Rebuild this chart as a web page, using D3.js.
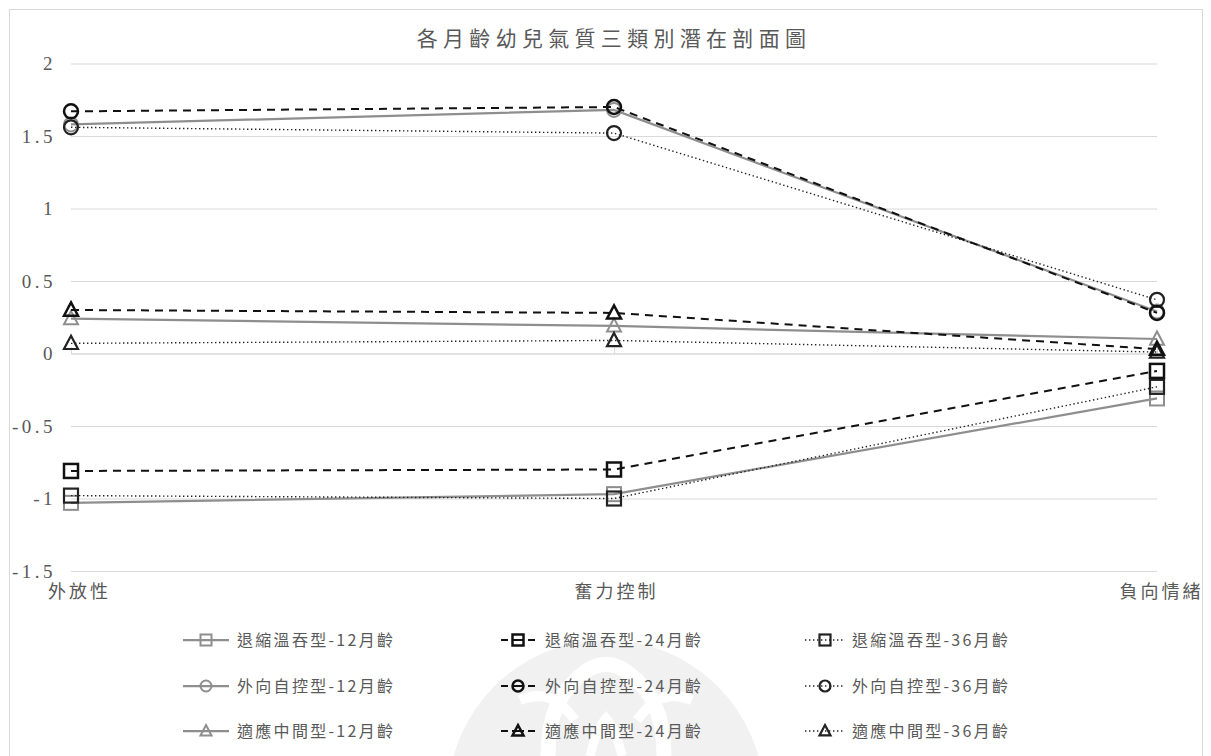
<!DOCTYPE html>
<html>
<head>
<meta charset="utf-8">
<script src="https://cdn.jsdelivr.net/npm/d3@7"></script>
<style>
  html, body { margin: 0; padding: 0; background: #ffffff; }
  svg { display: block; }
</style>
</head>
<body>
<svg id="chart" width="1211" height="756"></svg>
<script>
// Latent-profile means per temperament dimension
const categories = ["外放性", "奮力控制", "負向情緒"];
const yTicks = [-1.5, -1, -0.5, 0, 0.5, 1, 1.5, 2];
const yTickLabels = ["-1.5", "-1", "-0.5", "0", "0.5", "1", "1.5", "2"];

const withdrawn12 = [-1.03, -0.97, -0.31];
const withdrawn24 = [-0.81, -0.80, -0.12];
const withdrawn36 = [-0.98, -1.00, -0.23];
const extravert12 = [1.58, 1.68, 0.29];
const extravert24 = [1.67, 1.70, 0.28];
const extravert36 = [1.56, 1.52, 0.37];
const adaptive12 = [0.24, 0.19, 0.10];
const adaptive24 = [0.30, 0.28, 0.03];
const adaptive36 = [0.07, 0.09, 0.01];

const seriesNames = [
  "退縮溫吞型-12月齡", "退縮溫吞型-24月齡", "退縮溫吞型-36月齡",
  "外向自控型-12月齡", "外向自控型-24月齡", "外向自控型-36月齡",
  "適應中間型-12月齡", "適應中間型-24月齡", "適應中間型-36月齡"
];
const seriesValues = [
  withdrawn12, withdrawn24, withdrawn36,
  extravert12, extravert24, extravert36,
  adaptive12, adaptive24, adaptive36
];
const markerShapes = ["square", "square", "square", "circle", "circle", "circle", "triangle", "triangle", "triangle"];
const ageStyle = ["solid", "dashed", "dotted", "solid", "dashed", "dotted", "solid", "dashed", "dotted"];

const styles = {
  solid:  { color: "#8e8e8e", width: 2.25, dash: null,      mStroke: 2 },
  dashed: { color: "#111111", width: 2,    dash: "8,6",     mStroke: 2.5 },
  dotted: { color: "#222222", width: 1.4,  dash: "1.4,2.6", mStroke: 2.2 }
};

const svg = d3.select("#chart");
const CJK = "'Noto Sans CJK TC', 'Noto Sans CJK SC', sans-serif";
const NUM = "'Liberation Serif', 'DejaVu Serif', serif";
const TEXT = "#595959";

// Outer chart frame
svg.append("rect")
  .attr("x", 9.5).attr("y", 9.5)
  .attr("width", 1193).attr("height", 770)
  .attr("fill", "#ffffff").attr("stroke", "#d9d9d9").attr("stroke-width", 1);

// Faint seal in the background of the legend area
const seal = svg.append("g").attr("class", "seal");
seal.append("circle").attr("cx", 606).attr("cy", 798).attr("r", 158).attr("fill", "#f1f1f1");
seal.append("path")
  .attr("d", "M 548 756 C 548 715, 560 690, 585 672 C 598 662, 614 662, 627 672 C 652 690, 664 715, 664 756")
  .attr("fill", "none").attr("stroke", "#ffffff").attr("stroke-width", 15);
seal.append("path")
  .attr("d", "M 520 700 C 545 690, 560 700, 575 720 M 692 700 C 667 690, 652 700, 637 720")
  .attr("fill", "none").attr("stroke", "#ffffff").attr("stroke-width", 10);
seal.append("path")
  .attr("d", "M 590 756 C 595 735, 600 725, 606 718 C 612 725, 617 735, 622 756")
  .attr("fill", "none").attr("stroke", "#ffffff").attr("stroke-width", 9);

// Scales
const x = d3.scalePoint().domain(categories).range([71, 1157]).padding(0);
const y = d3.scaleLinear().domain([-1.5, 2]).range([571, 63.5]);

// Horizontal gridlines
const grid = svg.append("g")
  .attr("transform", "translate(71,0)")
  .call(d3.axisLeft(y).tickValues(yTicks).tickSize(-(1157 - 71)).tickFormat(""));
grid.select(".domain").remove();
grid.selectAll(".tick line").attr("stroke", "#d9d9d9").attr("stroke-width", 1);

// Y tick labels
const yAxis = svg.append("g")
  .attr("transform", "translate(56,0)")
  .call(d3.axisLeft(y).tickValues(yTicks).tickSize(0).tickPadding(0)
    .tickFormat((d, i) => yTickLabels[i]));
yAxis.select(".domain").remove();
yAxis.selectAll("text")
  .attr("fill", TEXT)
  .style("font-family", NUM)
  .style("font-size", "19px")
  .style("letter-spacing", "3.5px")
  .attr("dy", "0.33em");

// Category axis line at zero with small tick marks
const zeroAxis = svg.append("g")
  .attr("transform", `translate(0,${y(0)})`)
  .call(d3.axisBottom(x).tickSize(-6).tickFormat(""));
zeroAxis.select(".domain").attr("stroke", "#d9d9d9");
zeroAxis.selectAll(".tick line").attr("stroke", "#d9d9d9");

// Category labels below the plot
const catAxis = svg.append("g")
  .attr("transform", "translate(0,584)")
  .call(d3.axisBottom(x).tickSize(0).tickPadding(0));
catAxis.select(".domain").remove();
catAxis.selectAll("text")
  .attr("fill", TEXT)
  .attr("dy", "0.8em")
  .attr("dx", (d, i) => [8, 2, 4][i])
  .style("font-family", CJK)
  .style("font-size", "18px")
  .style("letter-spacing", "3px");

// Title
svg.append("text")
  .attr("x", 614).attr("y", 46)
  .attr("text-anchor", "middle")
  .attr("fill", TEXT)
  .style("font-family", CJK)
  .style("font-size", "21px")
  .style("letter-spacing", "5.3px")
  .text("各月齡幼兒氣質三類別潛在剖面圖");

// Marker drawing helper
function drawMarker(g, shape, cx, cy, size, st) {
  let el;
  if (shape === "square") {
    el = g.append("rect").attr("x", cx - size / 2).attr("y", cy - size / 2)
      .attr("width", size).attr("height", size);
  } else if (shape === "circle") {
    el = g.append("circle").attr("cx", cx).attr("cy", cy).attr("r", size / 2);
  } else {
    const h = size * 0.9;
    el = g.append("path")
      .attr("d", `M ${cx} ${cy - h * 0.6} L ${cx + size / 2} ${cy + h * 0.45} L ${cx - size / 2} ${cy + h * 0.45} Z`);
  }
  el.attr("fill", "none").attr("stroke", st.color).attr("stroke-width", st.mStroke)
    .attr("stroke-linejoin", "miter");
  return el;
}

const line = d3.line().x((d, i) => x(categories[i])).y(d => y(d));

// Draw series: grey 12-month first, then 36 dotted, then 24 dashed on top
const order = [0, 3, 6, 2, 5, 8, 1, 4, 7];
const plot = svg.append("g").attr("class", "series");
order.forEach(k => {
  const st = styles[ageStyle[k]];
  const g = plot.append("g");
  g.append("path")
    .datum(seriesValues[k])
    .attr("d", line)
    .attr("fill", "none")
    .attr("stroke", st.color)
    .attr("stroke-width", st.width)
    .attr("stroke-dasharray", st.dash);
  seriesValues[k].forEach((v, i) => {
    drawMarker(g, markerShapes[k], x(categories[i]), y(v), 14, st);
  });
});

// Legend (3 columns x 3 rows)
const legendCols = [
  { x0: 183, x1: 229, tx: 237, dash: null },
  { x0: 501, x1: 535, tx: 545, dash: "7,4,12,4,7" },
  { x0: 805, x1: 845, tx: 852, dash: "1.4,2.6" }
];
const legendRows = [640, 686, 731];
const legend = svg.append("g").attr("class", "legend");
seriesNames.forEach((name, k) => {
  const row = Math.floor(k / 3), col = k % 3;
  const c = legendCols[col], ly = legendRows[row];
  const st = styles[ageStyle[k]];
  const g = legend.append("g");
  g.append("line")
    .attr("x1", c.x0).attr("x2", c.x1).attr("y1", ly).attr("y2", ly)
    .attr("stroke", st.color).attr("stroke-width", st.width)
    .attr("stroke-dasharray", c.dash);
  drawMarker(g, markerShapes[k], (c.x0 + c.x1) / 2, ly, 11, st);
  g.append("text")
    .attr("x", c.tx).attr("y", ly)
    .attr("dy", "0.36em")
    .attr("fill", TEXT)
    .style("font-family", CJK)
    .style("font-size", "16px")
    .style("letter-spacing", "2.3px")
    .text(name);
});
</script>
</body>
</html>
